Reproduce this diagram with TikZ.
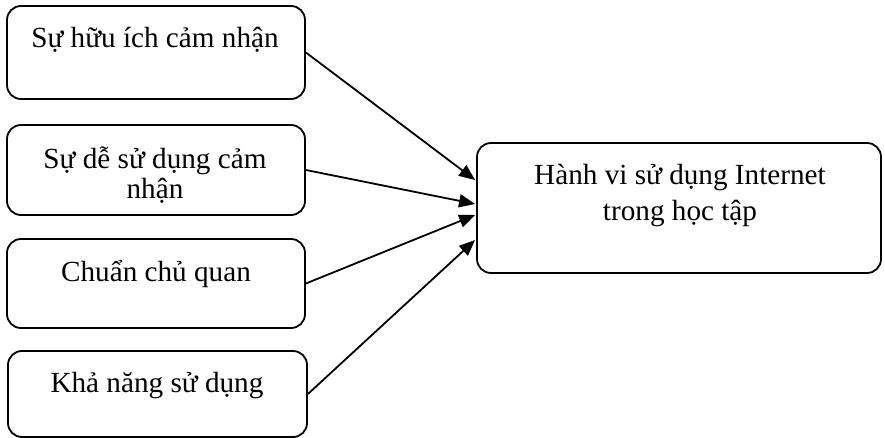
\documentclass[tikz,border=0pt]{standalone}
\usepackage{fontspec}
\setmainfont{Liberation Serif}
\usetikzlibrary{arrows.meta,calc}
\begin{document}
\begin{tikzpicture}[x=1pt,y=-1pt,
  box/.style={draw,line width=1.8pt,rounded corners=14pt,inner sep=0pt},
  txt/.style={anchor=base,inner sep=0pt,font=\fontsize{29.2}{35}\selectfont},
  arr/.style={line width=1.8pt,-{Triangle[length=16pt,width=13pt]}}]
\useasboundingbox (0,0) rectangle (885,438);
\node[box,minimum width=298pt,minimum height=93pt] (b1) at (156,52.5) {};
\node[box,minimum width=298pt,minimum height=90pt] (b2) at (156,170) {};
\node[box,minimum width=298pt,minimum height=89pt] (b3) at (156,283.5) {};
\node[box,minimum width=299pt,minimum height=86pt] (b4) at (157.5,394) {};
\node[box,minimum width=404pt,minimum height=130pt] (big) at (679,208) {};
\node[txt] (t1) at (155,48) {Sự hữu ích cảm nhận};
\node[txt] (t2a) at (155,169) {Sự dễ sử dụng cảm};
\node[txt] (t2b) at (155,199) {nhận};
\node[txt] (t3) at (156,281) {Chuẩn chủ quan};
\node[txt] (t4) at (157,392) {Khả năng sử dụng};
\node[txt] (t5a) at (680,185) {Hành vi sử dụng Internet};
\node[txt] (t5b) at (680,221) {trong học tập};
\coordinate (e1) at ($(big.west)+(-1,-28)$);
\coordinate (e2) at ($(big.west)+(-1,-4)$);
\coordinate (e3) at ($(big.west)+(-1,7)$);
\coordinate (e4) at ($(big.west)+(-1,32)$);
\draw[arr] (b1.east) -- (e1);
\draw[arr] (b2.east) -- (e2);
\draw[arr] (b3.east) -- (e3);
\draw[arr] (b4.east) -- (e4);
\end{tikzpicture}
\end{document}
